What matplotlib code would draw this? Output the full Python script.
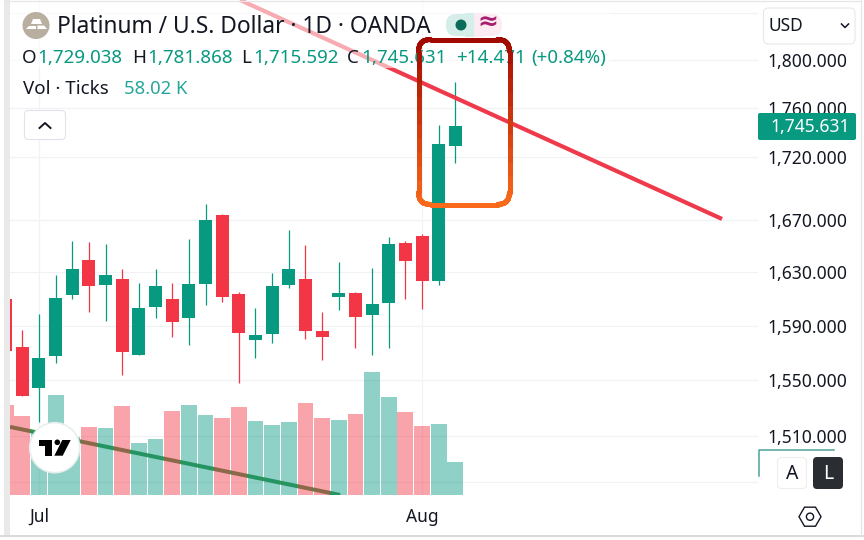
import numpy as np
import matplotlib
matplotlib.use("Agg")
import matplotlib.pyplot as plt
from matplotlib.collections import LineCollection
from matplotlib.patches import Circle, FancyBboxPatch, Polygon, Rectangle, RegularPolygon
from matplotlib.path import Path
from matplotlib.ticker import NullLocator

plt.rcParams["font.family"] = ["Noto Sans", "DejaVu Sans"]

# daily candles
opens = [1609.9, 1574.2, 1544.6, 1567.2, 1612.9, 1639.4, 1620.5, 1625.0, 1568.4, 1603.9,
         1609.9, 1595.7, 1621.2, 1674.4, 1613.7, 1579.4, 1583.8, 1620.5, 1625.0, 1586.0,
         1611.4, 1614.4, 1597.9, 1606.9, 1652.5, 1658.0, 1623.5, 1729.038]
highs = [1609.9, 1586.7, 1598.7, 1628.0, 1654.1, 1653.3, 1651.8, 1632.6, 1622.0, 1632.6,
         1622.0, 1655.7, 1683.0, 1675.0, 1615.2, 1603.2, 1629.5, 1662.7, 1651.0, 1600.2,
         1638.0, 1615.2, 1633.4, 1657.2, 1654.1, 1659.6, 1746.4, 1781.868]
lows = [1571.5, 1538.2, 1519.8, 1562.1, 1609.9, 1600.2, 1593.5, 1554.0, 1568.4, 1595.7,
        1581.6, 1575.7, 1605.4, 1607.6, 1548.0, 1566.2, 1577.2, 1618.2, 1580.1, 1564.8,
        1601.7, 1573.5, 1568.4, 1573.5, 1609.9, 1602.4, 1620.5, 1715.592]
closes = [1571.5, 1538.2, 1566.2, 1610.6, 1632.6, 1619.7, 1628.0, 1570.6, 1603.2, 1619.7,
          1592.7, 1621.2, 1670.5, 1611.4, 1584.5, 1583.0, 1619.7, 1632.6, 1586.0, 1581.6,
          1614.4, 1596.4, 1606.1, 1651.8, 1638.7, 1623.5, 1730.6, 1745.631]
# volume in thousands of ticks
volumes = [159.1, 139.6, 113.5, 176.9, 102.9, 120.1, 118.3, 157.4, 91.7, 98.8,
           148.5, 159.1, 141.4, 136.1, 155.6, 130.7, 123.6, 129.0, 162.7, 136.1,
           132.5, 143.2, 217.7, 173.3, 146.7, 121.9, 125.4, 58.02]
# bar 0 is the candle cut off by the left edge
vol_up = [False, False, True, True, True, False, True, False, True, True,
          False, True, True, False, False, True, True, True, False, False,
          True, False, True, True, False, False, True, True]

price_ticks = [1800, 1760, 1720, 1670, 1630, 1590, 1550, 1510]
price_labels = ["1,800.000", "1,760.000", "1,720.000", "1,670.000",
                "1,630.000", "1,590.000", "1,550.000", "1,510.000"]
extra_grid = [1840, 1478]
month_bars = [2, 25]
month_labels = ["Jul", "Aug"]

# drawn trend lines as (bar index, price)
red_trend_x = [14.07, 43.01]
red_trend_y = [1851.2, 1671.2]
green_trend_x = [0.26, 20.08]
green_trend_y = [1516.5, 1469.0]

UP = "#089981"
DOWN = "#f23645"
INK = "#131722"
GRID = "#f0f2f5"

fig = plt.figure(figsize=(8.64, 5.4), dpi=100)
W, H = 864, 540

# pane runs from x=10 to 757.5, y=0 to 495 in screen pixels
pane = [10 / W, 1 - 495 / H, 747.5 / W, 495 / H]
ax = fig.add_axes(pane, zorder=1)
vol_ax = fig.add_axes(pane, zorder=2, sharex=ax)
top = fig.add_axes([0, 0, 1, 1], zorder=3)

x = np.arange(len(opens))
o = np.array(opens)
c = np.array(closes)
colors = [UP if b >= a else DOWN for a, b in zip(opens, closes)]

ax.set_yscale("log")
ax.set_xlim(0.261, 45.14)
ax.set_ylim(1469, 1851.2)
ax.yaxis.tick_right()
ax.set_yticks(price_ticks, price_labels)
ax.yaxis.set_minor_locator(NullLocator())
ax.tick_params(axis="y", length=0, pad=7.5, labelsize=12.6, labelcolor=INK)
ax.set_xticks(month_bars, month_labels)
ax.tick_params(axis="x", length=0, pad=9, labelsize=12.5, labelcolor=INK)
ax.get_xticklabels()[1].set_fontweight("medium")
for s in ax.spines.values():
    s.set_visible(False)

for p in price_ticks + extra_grid:
    ax.axhline(p, color=GRID, lw=0.9, zorder=0)
for b in month_bars:
    ax.axvline(b, color=GRID, lw=0.9, zorder=0)

ax.plot(green_trend_x, green_trend_y, color="#3c914b", lw=2.9, solid_capstyle="butt", zorder=1)
ax.vlines(x, lows, highs, colors=colors, lw=0.9, zorder=2)
ax.bar(x, np.abs(c - o), bottom=np.minimum(o, c), width=0.78, color=colors, zorder=3)
ax.plot(red_trend_x, red_trend_y, color="#ee3a4a", lw=3.0, solid_capstyle="butt", zorder=4)

vol_ax.patch.set_alpha(0)
vol_ax.set_ylim(0, 878)
vol_ax.axis("off")
vol_ax.bar(x, volumes, width=0.95, alpha=0.45,
           color=[UP if u else DOWN for u in vol_up])

top.set_xlim(0, W)
top.set_ylim(H, 0)
top.axis("off")
top.patch.set_alpha(0)


def label(px, py, s, color=INK, size=13.5, **kw):
    kw.setdefault("ha", "left")
    top.text(px, py, s, color=color, fontsize=size, va="center", zorder=5, **kw)


def rounded(px, py, w, h, r, **kw):
    top.add_patch(FancyBboxPatch((px, py), w, h, boxstyle=f"round,pad=0,rounding_size={r}", **kw))


# legend washes out the red line behind it
top.add_patch(Rectangle((10, 0), 600, 68, color="white", alpha=0.58, lw=0, zorder=1))

# window edges
top.add_patch(Rectangle((4, 0), 6, 536, color="#e9e9e9", lw=0, zorder=1))
top.plot([0, W], [536, 536], color="#d9d9d9", lw=1.4, zorder=1)
top.plot([4, 860], [0.5, 0.5], color="#e6e6e6", lw=0.9, zorder=1)
top.plot([860.5, 860.5], [0, 536], color="#e6e6e6", lw=0.9, zorder=1)

# symbol icon and title
top.add_patch(Circle((36, 25.5), 13.5, color="#b9afa1", lw=0, zorder=2))
top.add_patch(Polygon([(33, 19), (40, 19), (42, 24), (31, 24)], color="white", lw=0, zorder=3))
top.add_patch(Polygon([(29, 25.5), (35.5, 25.5), (35.5, 29), (26, 29)], color="white", lw=0, zorder=3))
top.add_patch(Polygon([(37.5, 25.5), (44, 25.5), (47, 29), (37.5, 29)], color="white", lw=0, zorder=3))
label(57, 27, "Platinum / U.S. Dollar · 1D · OANDA", size=16.4)

# market status badge
top.add_patch(FancyBboxPatch((446, 14), 28, 22, boxstyle="round,pad=0,rounding_size=10",
                             fc="#d6eee9", ec="none", zorder=2))
top.add_patch(Rectangle((465, 13), 9, 24, color="#d6eee9", lw=0, zorder=2))
top.add_patch(FancyBboxPatch((474, 14), 28, 22, boxstyle="round,pad=0,rounding_size=10",
                             fc="#fcebf3", ec="none", zorder=2))
top.add_patch(Rectangle((474, 13), 9, 24, color="#fcebf3", lw=0, zorder=2))
top.add_patch(Circle((461, 25), 5.5, color="#0b6b5b", lw=0, zorder=3))
label(487.5, 23.5, "≈", color="#a81e6e", size=18, ha="center", fontweight="bold")

# OHLC row
for px, s, col in [(22, "O", INK), (37, "1,729.038", UP), (132, "H", INK), (147, "1,781.868", UP),
                   (241, "L", INK), (253, "1,715.592", UP), (347, "C", INK), (361, "1,745.631", UP),
                   (456, "+14.471", UP), (531, "(+0.84%)", UP)]:
    label(px, 58, s, color=col)

label(23, 89.5, "Vol · Ticks")
label(124, 89.5, "58.02 K", color="#26a69a", size=13.3)

# collapse button
rounded(24.5, 110.5, 41, 29, 4, fc="white", ec="#e0e3eb", lw=0.8, zorder=2)
top.plot([39.5, 45, 50.5], [128, 123, 128], color=INK, lw=1.4, zorder=3)

# gradient box round the last two candles
box = FancyBboxPatch((418.5, 39.5), 91, 165, boxstyle="round,pad=0,rounding_size=12")
outline = box.get_path().to_polygons(closed_only=False)[0]
pts = Path(outline).interpolated(10).vertices
segs = np.stack([pts[:-1], pts[1:]], axis=1)
t = (segs[:, :, 1].mean(axis=1) - 39.5) / 165
grad = np.outer(1 - t, [160, 8, 0]) + np.outer(t, [250, 106, 26])
top.add_collection(LineCollection(segs, colors=grad / 255, linewidths=3.6, capstyle="round", zorder=6))

# price scale widgets
rounded(763.5, 8, 91.5, 36, 5, fc="white", ec="#e8e8e8", lw=0.8, zorder=2)
label(769, 26, "USD", size=12.5)
top.plot([841.5, 845, 848.5], [24, 27.5, 24], color=INK, lw=1.1, zorder=3)
rounded(758, 113, 98, 27, 2, fc=UP, ec="none", zorder=4)
label(770, 126.5, "1,745.631", color="white", size=12.6, fontweight="medium")

top.plot([834, 758.5, 758.5], [449.5, 449.5, 476], color="#4aa39a", lw=1.1, zorder=2)
rounded(777.5, 457.5, 29, 31, 4, fc="white", ec="#eeeeee", lw=0.8, zorder=2)
label(792, 474, "A", size=14, ha="center")
rounded(813, 457, 30, 32, 4, fc="#2a2e33", ec="none", zorder=2)
label(828, 474, "L", color="white", size=14, ha="center")

top.add_patch(RegularPolygon((810, 516.7), 6, radius=11, orientation=np.pi / 6,
                             fc="none", ec=INK, lw=1.0, zorder=3))
top.add_patch(Circle((810, 516.7), 3.6, fc="none", ec=INK, lw=1.0, zorder=3))

# TradingView badge
top.add_patch(Circle((54.7, 447.7), 25, fc="white", ec="#e8eeee", lw=1.2, zorder=4))
top.add_patch(Polygon([(38.7, 440), (51.7, 440), (51.7, 455.7), (45, 455.7), (45, 446), (38.7, 446)],
                      color="black", lw=0, zorder=5))
top.add_patch(Circle((57.3, 442.3), 2.8, color="black", lw=0, zorder=5))
top.add_patch(Polygon([(62.3, 440), (70.7, 440), (62.7, 455.7), (54.3, 455.7)],
                      color="black", lw=0, zorder=5))

fig.savefig("out.png", dpi=100)
